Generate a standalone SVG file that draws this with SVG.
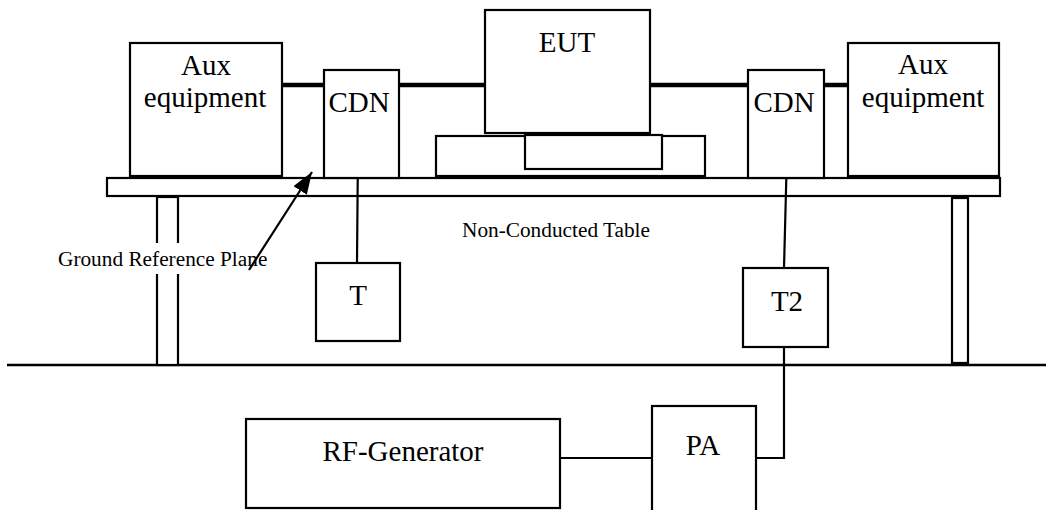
<svg xmlns="http://www.w3.org/2000/svg" width="1046" height="510" viewBox="0 0 1046 510">
<style>
.box{fill:#fff;stroke:#000;stroke-width:2.2}
.cable{stroke:#000;stroke-width:4.5;fill:none}
.wire{stroke:#000;stroke-width:2.2;fill:none}
.big{font-family:"Liberation Serif","Times New Roman",serif;font-size:29px;fill:#000;text-anchor:middle}
.small{font-family:"Liberation Serif","Times New Roman",serif;font-size:21.3px;fill:#000}
</style>
<defs>
<marker id="arrow" markerWidth="22" markerHeight="16" refX="22" refY="8" orient="auto" markerUnits="userSpaceOnUse">
<path d="M0,0 L22,8 L0,16 Z" fill="#000"/>
</marker>
</defs>
<rect width="1046" height="510" fill="#fff"/>
<g id="ground">
<line x1="7" y1="365" x2="1046" y2="365" stroke="#000" stroke-width="2.6"/>
</g>
<g id="table">
<rect class="box" x="157" y="197" width="21" height="168"/>
<rect class="box" x="952" y="198" width="16" height="165"/>
<rect class="box" x="107" y="178" width="893" height="18"/>
</g>
<g id="connectors">
<line class="cable" x1="282" y1="85" x2="324" y2="85"/>
<line class="cable" x1="399" y1="85" x2="485" y2="85"/>
<line class="cable" x1="650" y1="85" x2="748" y2="85"/>
<line class="cable" x1="824" y1="85" x2="848" y2="85"/>
<line class="wire" x1="358" y1="146" x2="357" y2="263"/>
<line class="wire" x1="787" y1="152" x2="784" y2="268"/>
<polyline class="wire" points="784,347 784,458 756,458"/>
<line class="wire" x1="560" y1="458" x2="652" y2="458"/>
</g>
<g id="aux-left">
<rect class="box" x="130" y="43" width="152" height="133"/>
<text class="big" x="206" y="75">Aux</text>
<text class="big" x="205" y="107">equipment</text>
</g>
<g id="cdn-left">
<rect class="box" x="324" y="70" width="75" height="108"/>
<text class="big" x="359" y="112">CDN</text>
</g>
<g id="eut-stand">
<rect class="box" x="436" y="136" width="269" height="40"/>
<rect class="box" x="525" y="135" width="137" height="34"/>
</g>
<g id="eut">
<rect class="box" x="485" y="10" width="165" height="123"/>
<text class="big" x="567" y="52">EUT</text>
</g>
<g id="cdn-right">
<rect class="box" x="748" y="70" width="76" height="108"/>
<text class="big" x="784" y="112">CDN</text>
</g>
<g id="aux-right">
<rect class="box" x="848" y="43" width="151" height="133"/>
<text class="big" x="923" y="74">Aux</text>
<text class="big" x="923" y="107">equipment</text>
</g>
<g id="t">
<rect class="box" x="316" y="263" width="84" height="78"/>
<text class="big" x="358" y="305">T</text>
</g>
<g id="t2">
<rect class="box" x="743" y="268" width="85" height="79"/>
<text class="big" x="787" y="311">T2</text>
</g>
<g id="rf-generator">
<rect class="box" x="246" y="419" width="314" height="89"/>
<text class="big" x="403" y="461">RF-Generator</text>
</g>
<g id="pa">
<rect class="box" x="652" y="406" width="104" height="120"/>
<text class="big" x="703" y="455">PA</text>
</g>
<g id="table-label">
<text class="small" x="462" y="237">Non-Conducted Table</text>
</g>
<g id="grp-label">
<rect x="56" y="243" width="214" height="31" fill="#fff"/>
<text class="small" x="58" y="266">Ground Reference Plane</text>
<line class="wire" x1="249" y1="270" x2="312" y2="172" marker-end="url(#arrow)"/>
</g>
</svg>
